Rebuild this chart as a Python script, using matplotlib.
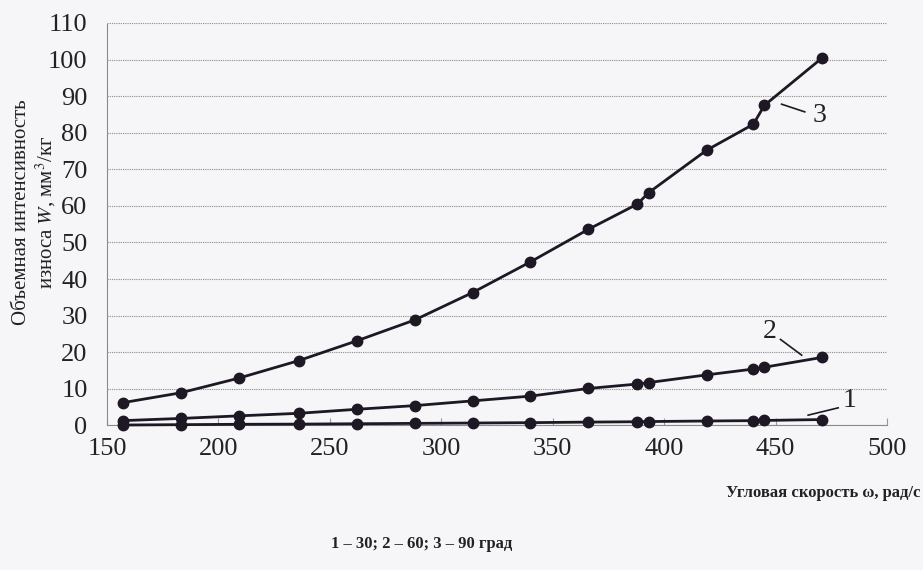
import matplotlib.pyplot as plt

# Угловая скорость, рад/с
omega = [157, 183, 209, 236, 262, 288, 314, 340, 366, 388, 393, 419, 440, 445, 471]

# Объемная интенсивность износа для трех углов
w_30 = [0.1, 0.2, 0.3, 0.35, 0.45, 0.55, 0.65, 0.75, 0.9, 1.0, 1.05, 1.2, 1.3, 1.35, 1.6]
w_60 = [1.3, 1.9, 2.6, 3.3, 4.4, 5.4, 6.7, 8.0, 10.1, 11.3, 11.7, 13.8, 15.4, 15.9, 18.6]
w_90 = [6.2, 8.9, 12.9, 17.7, 23.1, 28.8, 36.3, 44.7, 53.6, 60.5, 63.6, 75.2, 82.3, 87.5, 100.5]

y_ticks = list(range(0, 111, 10))
x_ticks = [150, 200, 250, 300, 350, 400, 450, 500]

plt.rcParams['font.family'] = ['Liberation Serif', 'DejaVu Serif']
plt.rcParams['mathtext.fontset'] = 'stix'

bg = '#f6f6f8'
ink = '#1e1824'
txt = '#222222'

fig = plt.figure(figsize=(9.23, 5.70), dpi=100, facecolor=bg)
ax = fig.add_axes([0.116, 0.2537, 0.845, 0.706])
ax.set_facecolor(bg)

for series in (w_30, w_60, w_90):
    ax.plot(omega, series, color=ink, lw=2, marker='o', ms=7.5, clip_on=False, zorder=3)

ax.set_xlim(150, 500)
ax.set_ylim(0, 110)
ax.set_xticks(x_ticks)
ax.set_yticks(y_ticks)
ax.tick_params(axis='both', labelsize=19, labelcolor=txt)
ax.tick_params(axis='x', direction='in', length=5, width=0.8, color='#999999', pad=9)
ax.tick_params(axis='y', length=0, pad=14)

ax.grid(axis='y', ls=(0, (1, 1)), color='#8a8a8a', lw=0.8)
for s in ('top', 'right'):
    ax.spines[s].set_visible(False)
for s in ('left', 'bottom'):
    ax.spines[s].set_linestyle((0, (1, 1)))
    ax.spines[s].set_color('#8a8a8a')
    ax.spines[s].set_linewidth(0.8)

# номера кривых с выносками
ax.plot([452.7, 463.1], [87.8, 85.7], color=ink, lw=1.2)
ax.text(469.9, 84.8, '3', fontsize=20, ha='center', va='center', color=txt)
ax.plot([452.2, 461.7], [23.5, 19.2], color=ink, lw=1.2)
ax.text(447.4, 25.8, '2', fontsize=20, ha='center', va='center', color=txt)
ax.plot([464.6, 478.1], [2.8, 4.8], color=ink, lw=1.2, clip_on=False)
ax.text(483.3, 6.7, '1', fontsize=20, ha='center', va='center', color=txt)

fig.text(0.023, 0.628, 'Объемная интенсивность', rotation=90, fontsize=15,
         ha='center', va='center', color=txt)
fig.text(0.050, 0.628, 'износа $W$, мм$^3$/кг', rotation=90, fontsize=15,
         ha='center', va='center', color=txt)

fig.text(0.997, 0.135, 'Угловая скорость ω, рад/с', fontsize=12, fontweight='bold',
         ha='right', va='center', color=txt)
fig.text(0.457, 0.045, '1 – 30; 2 – 60; 3 – 90 град', fontsize=12, fontweight='bold',
         ha='center', va='center', color=txt)

fig.savefig('out.png', dpi=100, facecolor=bg)
